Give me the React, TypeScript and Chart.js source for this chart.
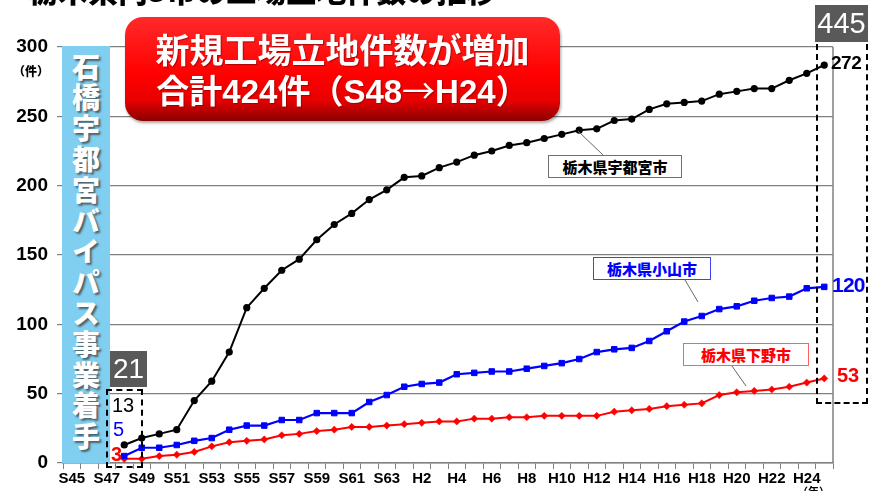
import React, { useEffect, useRef } from "react";
import { Chart, registerables } from "chart.js";

Chart.register(...registerables);

// ---- data ----
const categories = [
  "S45", "S46", "S47", "S48", "S49", "S50", "S51", "S52", "S53", "S54",
  "S55", "S56", "S57", "S58", "S59", "S60", "S61", "S62", "S63", "H1",
  "H2", "H3", "H4", "H5", "H6", "H7", "H8", "H9", "H10", "H11",
  "H12", "H13", "H14", "H15", "H16", "H17", "H18", "H19", "H20", "H21",
  "H22", "H23", "H24", "H25",
];

const tickLabels = [
  "S45", "", "S47", "", "S49", "", "S51", "", "S53", "",
  "S55", "", "S57", "", "S59", "", "S61", "", "S63", "",
  "H2", "", "H4", "", "H6", "", "H8", "", "H10", "",
  "H12", "", "H14", "", "H16", "", "H18", "", "H20", "",
  "H22", "", "H24", "",
];

const utsunomiya = [
  null, null, null, 13, 18, 21, 24, 45, 59, 80,
  112, 126, 139, 147, 161, 172, 180, 190, 197, 206,
  207, 213, 217, 222, 225, 229, 231, 234, 237, 240,
  241, 247, 248, 255, 259, 260, 261, 266, 268, 270,
  270, 276, 281, 287,
];

const oyama = [
  null, null, null, 5, 11, 11, 13, 16, 18, 24,
  27, 27, 31, 31, 36, 36, 36, 44, 49, 55,
  57, 58, 64, 65, 66, 66, 68, 70, 72, 75,
  80, 82, 83, 88, 95, 102, 106, 111, 113, 117,
  119, 120, 126, 127,
];

const shimotsuke = [
  null, null, null, 3, 3, 5, 6, 8, 12, 15,
  16, 17, 20, 21, 23, 24, 26, 26, 27, 28,
  29, 30, 30, 32, 32, 33, 33, 34, 34, 34,
  34, 37, 38, 39, 41, 42, 43, 49, 51, 52,
  53, 55, 58, 61,
];

const seriesNames = ["栃木県宇都宮市", "栃木県小山市", "栃木県下野市"];
const startLabels = ["13", "5", "3"];
const endLabels = ["272", "120", "53"];
const startTotal = "21";
const endTotal = "445";
const headline1 = "新規工場立地件数が増加";
const headline2 = ["合計", "424", "件（", "S48", "→", "H24", "）"];
const bandText = "石橋宇都宮バイパス事業着手";
const pageTitle = "栃木県内3市の工場立地件数の推移";

const LATIN = "'Liberation Sans', Arial, 'Noto Sans CJK JP', sans-serif";
const CJK = "'Noto Sans CJK JP', 'Liberation Sans', sans-serif";

export default function App() {
  const ref = useRef<HTMLCanvasElement | null>(null);

  useEffect(() => {
    document.body.style.margin = "0";
    const borderPlugin = {
      id: "rightBorder",
      beforeDatasetsDraw(chart: any) {
        const { ctx, chartArea } = chart;
        ctx.save();
        ctx.strokeStyle = "#808080";
        ctx.lineWidth = 1.5;
        ctx.beginPath();
        ctx.moveTo(chartArea.right, chartArea.top);
        ctx.lineTo(chartArea.right, chartArea.bottom);
        ctx.stroke();
        ctx.restore();
      },
    };
    const chart = new Chart(ref.current!, {
      type: "line",
      data: {
        labels: categories,
        datasets: [
          {
            label: seriesNames[0],
            data: utsunomiya,
            borderColor: "#000000",
            backgroundColor: "#000000",
            borderWidth: 2,
            pointStyle: "circle",
            pointRadius: 3.6,
            pointBorderWidth: 0,
          },
          {
            label: seriesNames[1],
            data: oyama,
            borderColor: "#0000ff",
            backgroundColor: "#0000ff",
            borderWidth: 2.2,
            pointStyle: "rect",
            pointRadius: 3.9,
            pointBorderWidth: 1,
          },
          {
            label: seriesNames[2],
            data: shimotsuke,
            borderColor: "#ff0000",
            backgroundColor: "#ff0000",
            borderWidth: 2,
            pointStyle: "rectRot",
            pointRadius: 3.6,
            pointBorderWidth: 0.5,
          },
        ],
      },
      options: {
        responsive: false,
        animation: false,
        devicePixelRatio: 1,
        layout: { padding: { top: 47, right: 37, left: 0, bottom: 0 } },
        plugins: { legend: { display: false }, tooltip: { enabled: false } },
        scales: {
          x: {
            type: "category",
            offset: true,
            grid: {
              display: true,
              drawOnChartArea: false,
              drawTicks: true,
              tickLength: 6,
              color: "#808080",
              offset: true,
            },
            border: { display: true, color: "#808080", width: 1.5 },
            ticks: {
              autoSkip: false,
              maxRotation: 0,
              minRotation: 0,
              padding: 1,
              color: "#000",
              font: { family: LATIN, size: 15, weight: "bold" },
              callback: (_v: any, i: number) => tickLabels[i],
            },
            afterFit: (scale: any) => {
              scale.height = 28;
            },
          },
          y: {
            min: 0,
            max: 300,
            grid: { color: "#808080", lineWidth: 1.2, tickLength: 6 },
            border: { display: true, color: "#808080", width: 1.5 },
            ticks: {
              stepSize: 50,
              padding: 9,
              color: "#000",
              font: { family: LATIN, size: 19, weight: "bold" },
            },
            afterFit: (scale: any) => {
              scale.width = 63;
            },
          },
        },
      },
      plugins: [borderPlugin],
    });
    return () => chart.destroy();
  }, []);

  const abs = (s: React.CSSProperties): React.CSSProperties => ({ position: "absolute", ...s });

  return (
    <div style={{ position: "relative", width: 870, height: 491, overflow: "hidden", background: "#fff" }}>
      <canvas ref={ref} width={870} height={491} style={abs({ left: 0, top: 0, width: 870, height: 491 })} />

      {/* cut-off page title */}
      <div style={abs({ left: 28, top: -26, fontFamily: CJK, fontWeight: 900, fontSize: 30, lineHeight: "30px", color: "#000", whiteSpace: "nowrap" })}>
        {pageTitle}
      </div>

      {/* unit label */}
      <div style={abs({ left: 12, top: 63, width: 38, textAlign: "center", fontFamily: CJK, fontWeight: 900, fontSize: 12, lineHeight: "15px", color: "#000" })}>
        （件）
      </div>

      {/* blue band */}
      <div style={abs({ left: 62, top: 46, width: 48, height: 417, background: "#80cff0" })} />
      <div
        style={abs({
          left: 62,
          top: 53,
          width: 48,
          height: 410,
          writingMode: "vertical-rl",
          textOrientation: "upright",
          fontFamily: CJK,
          fontWeight: 900,
          fontSize: 28,
          lineHeight: "48px",
          letterSpacing: 2.8,
          color: "#fff",
          textShadow: "2px 2px 2px rgba(60,60,60,0.75)",
        })}
      >
        {bandText}
      </div>

      {/* headline red box */}
      <div
        style={abs({
          left: 125,
          top: 17,
          width: 435,
          height: 104,
          borderRadius: 18,
          background: "linear-gradient(180deg, #ff2a2a 0%, #ff0000 55%, #e80000 80%, #8a0000 100%)",
          boxShadow: "1px 2px 3px rgba(0,0,0,0.35)",
        })}
      />
      <div style={abs({ left: 125, top: 29, width: 435, textAlign: "center", fontWeight: 700, fontSize: 34, lineHeight: "40px", color: "#fff", whiteSpace: "nowrap", textShadow: "1px 1px 1px rgba(120,0,0,0.6)" })}>
        <div style={{ fontFamily: CJK, fontWeight: 700 }}>{headline1}</div>
        <div style={{ fontSize: 33 }}>
          <span style={{ fontFamily: CJK }}>{headline2[0]}</span>
          <span style={{ fontFamily: LATIN }}>{headline2[1]}</span>
          <span style={{ fontFamily: CJK }}>{headline2[2]}</span>
          <span style={{ fontFamily: LATIN }}>{headline2[3]}</span>
          <span style={{ fontFamily: CJK, fontWeight: 400 }}>{headline2[4]}</span>
          <span style={{ fontFamily: LATIN }}>{headline2[5]}</span>
          <span style={{ fontFamily: CJK }}>{headline2[6]}</span>
        </div>
      </div>

      {/* leader lines */}
      <svg width={870} height={491} style={abs({ left: 0, top: 0 })}>
        <line x1={603} y1={155} x2={578} y2={131} stroke="#666" strokeWidth={1} />
        <line x1={685} y1={280} x2={698} y2={302} stroke="#666" strokeWidth={1} />
        <line x1={732} y1={366} x2={746} y2={386} stroke="#666" strokeWidth={1} />
      </svg>

      {/* callouts */}
      <div style={abs({ left: 548, top: 155, width: 132, height: 21, border: "1px solid #707070", background: "#fff", fontFamily: CJK, fontWeight: 900, fontSize: 15, lineHeight: "21px", textAlign: "center", color: "#000" })}>
        {seriesNames[0]}
      </div>
      <div style={abs({ left: 593, top: 257, width: 116, height: 21, border: "1px solid #4040ff", background: "#fff", fontFamily: CJK, fontWeight: 900, fontSize: 15, lineHeight: "21px", textAlign: "center", color: "#0000ff" })}>
        {seriesNames[1]}
      </div>
      <div style={abs({ left: 683, top: 343, width: 124, height: 21, border: "1px solid #ff6060", background: "#fff", fontFamily: CJK, fontWeight: 900, fontSize: 15, lineHeight: "21px", textAlign: "center", color: "#ff0000" })}>
        {seriesNames[2]}
      </div>

      {/* start dashed box and totals */}
      <div style={abs({ left: 106, top: 389, width: 33, height: 75, border: "2px dashed #000" })} />
      <div style={abs({ left: 110, top: 351, width: 37, height: 36, background: "#595959", color: "#fff", fontFamily: LATIN, fontSize: 28, lineHeight: "36px", textAlign: "center" })}>
        {startTotal}
      </div>
      <div style={abs({ left: 112, top: 394, fontFamily: LATIN, fontSize: 20, lineHeight: "22px", color: "#000" })}>{startLabels[0]}</div>
      <div style={abs({ left: 113, top: 418, fontFamily: LATIN, fontSize: 20, lineHeight: "22px", color: "#0000ff" })}>{startLabels[1]}</div>
      <div style={abs({ left: 111, top: 443, fontFamily: LATIN, fontWeight: 700, fontSize: 20, lineHeight: "22px", color: "#ff0000" })}>{startLabels[2]}</div>

      {/* end dashed box and totals */}
      <div style={abs({ left: 816, top: 44, width: 48, height: 358, borderLeft: "2px dashed #000", borderRight: "2px dashed #000", borderBottom: "2px dashed #000" })} />
      <div style={abs({ left: 815, top: 5, width: 53, height: 37, background: "#595959", color: "#fff", fontFamily: LATIN, fontSize: 29, lineHeight: "37px", textAlign: "center" })}>
        {endTotal}
      </div>
      <div style={abs({ left: 831, top: 53, fontFamily: LATIN, fontWeight: 700, fontSize: 19, lineHeight: "20px", color: "#000", letterSpacing: -0.5 })}>{endLabels[0]}</div>
      <div style={abs({ left: 832, top: 273, fontFamily: LATIN, fontWeight: 700, fontSize: 21, lineHeight: "24px", color: "#0000ff", letterSpacing: -0.8 })}>{endLabels[1]}</div>
      <div style={abs({ left: 837, top: 363, fontFamily: LATIN, fontWeight: 700, fontSize: 20, lineHeight: "24px", color: "#ff0000" })}>{endLabels[2]}</div>

      {/* x unit label (cut off) */}
      <div style={abs({ left: 797, top: 484, fontFamily: CJK, fontWeight: 700, fontSize: 11, lineHeight: "14px", color: "#000" })}>（年）</div>
    </div>
  );
}
